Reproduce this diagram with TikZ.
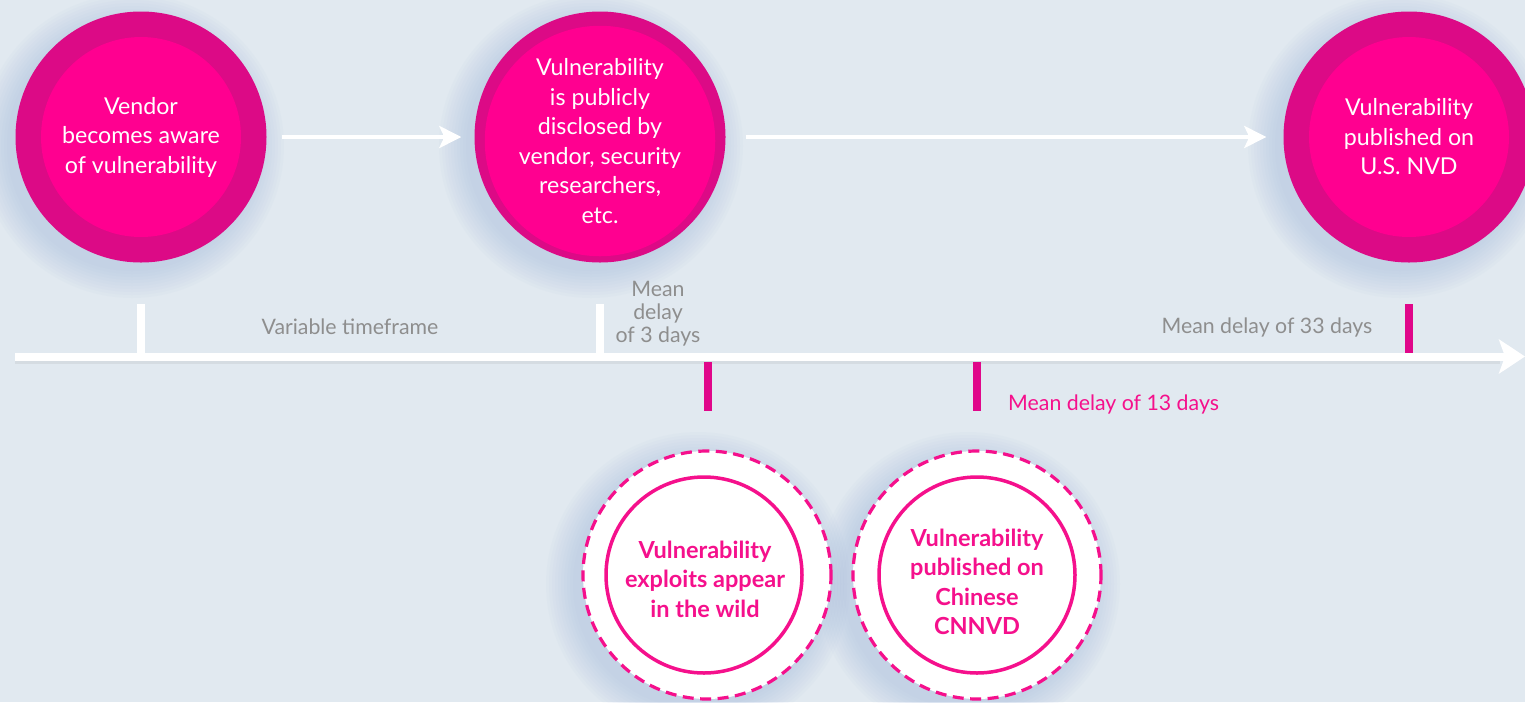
\documentclass[tikz,border=0pt]{standalone}
\usepackage{fontspec}
\setmainfont{Lato}
\usetikzlibrary{arrows.meta}
\definecolor{bg}{HTML}{E1E9F0}
\definecolor{magouter}{HTML}{DC0A86}
\definecolor{maginner}{HTML}{FF0090}
\definecolor{magline}{HTML}{F5108C}
\definecolor{magtick}{HTML}{E0078A}
\definecolor{graytxt}{HTML}{8E8E8E}
\definecolor{shadowc}{HTML}{9AB2D8}
\tikzset{
  outerc/.style={circle, fill=magouter, minimum size=251pt, inner sep=0pt},
  innerc/.style={circle, fill=maginner, minimum size=200pt, inner sep=0pt, text=white, align=center, font=\fontsize{23.2}{29.5}\selectfont},
  dashc/.style={circle, fill=white, draw=magline, line width=3.2pt, dash pattern=on 11pt off 6.5pt, minimum size=248pt, inner sep=0pt},
  solidc/.style={circle, fill=white, draw=magline, line width=3.5pt, minimum size=196pt, inner sep=0pt, text=magline, align=center, font=\bfseries\fontsize{23.5}{29.5}\selectfont},
  flowarrow/.style={white, line width=4pt, -{Stealth[length=22pt, width=22pt, inset=5pt]}},
  tlarrow/.style={white, line width=8pt, -{Stealth[length=26pt, width=34pt, inset=6pt]}},
  whitetick/.style={rectangle, fill=white, minimum width=8pt, minimum height=49pt, inner sep=0pt},
  magtickst/.style={rectangle, fill=magtick, minimum width=8pt, minimum height=49pt, inner sep=0pt},
  graylabel/.style={text=graytxt, align=center, font=\fontsize{21.3}{23}\selectfont, inner sep=0pt},
  maglabel/.style={text=magline, font=\fontsize{21.3}{23}\selectfont, inner sep=0pt, anchor=west},
}
\begin{document}
\begin{tikzpicture}[x=1pt,y=-1pt]
\fill[bg] (0,0) rectangle (1525,702);
\useasboundingbox (0,0) rectangle (1525,702);
% soft shadows
\foreach \cx/\cy in {141/137, 600/137, 1409/137, 707/575, 977/575}{
  \foreach \r in {152,149,...,125}{
    \fill[shadowc, opacity=0.045] (\cx-9,\cy+9) circle (\r pt);
  }
}
% timeline shadow
\fill[gray, opacity=0.12] (15,358) rectangle (1500,364);
% top circles
\node[outerc] (c1) at (141,137) {};
\node[innerc] (c1t) at (c1) {Vendor\\becomes aware\\of vulnerability};
\node[outerc] (c2) at (600,137) {};
\node[innerc] (c2t) at (600,141) {Vulnerability\\is publicly\\disclosed by\\vendor, security\\researchers,\\etc.};
\node[outerc] (c3) at (1409,137) {};
\node[innerc] (c3t) at (c3) {Vulnerability\\published on\\U.S. NVD};
% flow arrows
\draw[flowarrow, shorten <=15pt, shorten >=13pt] (c1) -- (c2);
\draw[flowarrow, shorten <=20pt, shorten >=17pt] (c2) -- (c3);
% timeline
\coordinate (tl0) at (15,356.5);
\coordinate (tl1) at (1525,356.5);
\draw[tlarrow] (tl0) -- (tl1);
% ticks
\node[whitetick] (k1) at (141,328) {};
\node[whitetick] (k2) at (600,328) {};
\node[magtickst] (k3) at (1409,328) {};
\node[magtickst] (k4) at (707.5,386) {};
\node[magtickst] (k5) at (977,386) {};
% labels
\node[graylabel] (l1) at (350,327) {Variable timeframe};
\node[graylabel] (l2) at (658,314) {Mean\\delay\\of 3 days};
\node[graylabel] (l3) at (1267,327) {Mean delay of 33 days};
\node[maglabel] (l4) at (1008,404) {Mean delay of 13 days};
% bottom circles
\node[dashc] (b1) at (707,575) {};
\node[solidc] (b1t) at (704,575) {};
\node[text=magline, align=center, font=\bfseries\fontsize{23.5}{29.5}\selectfont] (b1x) at (705,579) {Vulnerability\\exploits appear\\in the wild};
\node[dashc] (b2) at (977,575) {};
\node[solidc] (b2t) at (977,575) {};
\node[text=magline, align=center, font=\bfseries\fontsize{23.5}{29.5}\selectfont] (b2x) at (977,582) {Vulnerability\\published on\\Chinese\\CNNVD};
\end{tikzpicture}
\end{document}
